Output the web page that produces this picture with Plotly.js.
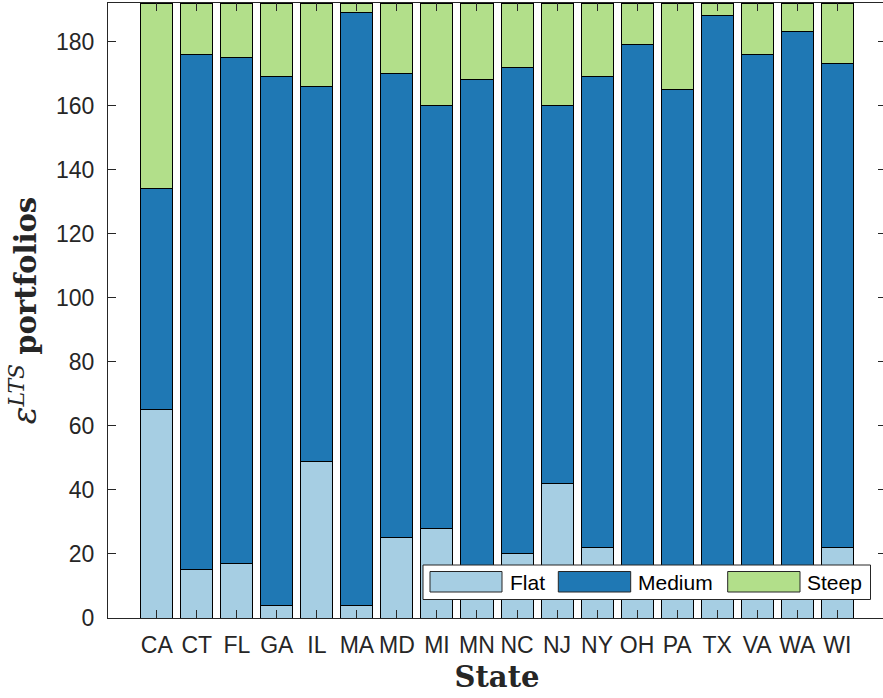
<!DOCTYPE html>
<html>
<head>
<meta charset="utf-8">
<script src="https://cdn.plot.ly/plotly-3.0.1.min.js"></script>
<style>html,body{margin:0;padding:0;overflow:hidden;background:#fff;}#chart{width:886px;height:698px;}</style>
</head>
<body>
<div id="chart"></div>
<script>
const states = ["CA","CT","FL","GA","IL","MA","MD","MI","MN","NC","NJ","NY","OH","PA","TX","VA","WA","WI"];
const flat   = [65, 15, 17, 4, 49, 4, 25, 28, 10, 20, 42, 22, 8, 12, 6, 9, 7, 22];
const mediumTop = [134, 176, 175, 169, 166, 189, 170, 160, 168, 172, 160, 169, 179, 165, 188, 176, 183, 173];
const total = 192;
const medium = mediumTop.map((v, i) => v - flat[i]);
const steep = mediumTop.map(v => total - v);
const seriesNames = ["Flat", "Medium", "Steep"];
const colors = ["#a6cee3", "#1f78b4", "#b2df8a"];

const W = 886, H = 698, L = 108, R = 0, T = 3, B = 80;
const pw = W - L - R, ph = H - T - B;
const px = x => (x - L) / pw;
const py = y => (H - B - y) / ph;

const vals = [flat, medium, steep];
const traces = vals.map((v, k) => ({
  type: "bar", x: states, y: v, name: seriesNames[k],
  marker: {color: colors[k], line: {color: "#000", width: 1}},
  width: 0.8, showlegend: false, hoverinfo: "x+y"
}));

const font = "Liberation Sans, Arial, Helvetica, sans-serif";
const shapes = [];
const annotations = [];
// legend box
shapes.push({type: "rect", xref: "paper", yref: "paper", x0: px(423), x1: px(870.5), y0: py(599.5), y1: py(565),
  fillcolor: "#fff", line: {color: "#262626", width: 1}, layer: "above"});
const sw = [[430, 502, 508], [558.3, 630.7, 636], [727.7, 800, 805]];
sw.forEach((s, k) => {
  shapes.push({type: "rect", xref: "paper", yref: "paper", x0: px(s[0]), x1: px(s[1]), y0: py(592), y1: py(571.5),
    fillcolor: colors[k], line: {color: "#262626", width: 1}, layer: "above"});
  annotations.push({xref: "paper", yref: "paper", x: px(s[2]), y: py(582), xanchor: "left", yanchor: "middle",
    text: seriesNames[k], showarrow: false, font: {family: font, size: 21, color: "#000"}});
});

const layout = {
  width: W, height: H,
  margin: {l: L, r: R, t: T, b: B, pad: 0},
  paper_bgcolor: "#fff", plot_bgcolor: "#fff",
  barmode: "stack", bargap: 0.2,
  showlegend: false,
  xaxis: {
    range: [-1.2175, 18.2175], type: "category",
    ticks: "inside", ticklen: 8, tickcolor: "#262626", tickwidth: 1,
    showline: true, linecolor: "#262626", linewidth: 1, mirror: "allticks",
    showgrid: false, zeroline: false,
    tickfont: {family: font, size: 23, color: "#262626"},
    ticklabelstandoff: 6,
    title: {text: "<b>State</b>", font: {family: "DejaVu Serif, serif", size: 29, color: "#262626"}, standoff: 10}
  },
  yaxis: {
    range: [0, total], tickvals: [0,20,40,60,80,100,120,140,160,180],
    ticks: "inside", ticklen: 8, tickcolor: "#262626", tickwidth: 1,
    showline: true, linecolor: "#262626", linewidth: 1, mirror: "allticks",
    showgrid: false, zeroline: false,
    tickfont: {family: font, size: 23, color: "#262626"},
    ticklabelstandoff: 8,
    title: {text: "<i><span style=\"font-size:33px\">ε</span></i><sup><i><span style=\"font-size:22px\">LTS</span></i></sup> <b>portfolios</b>",
      font: {family: "DejaVu Serif, serif", size: 29, color: "#262626"}, standoff: 10}
  },
  shapes: shapes,
  annotations: annotations
};

Plotly.newPlot("chart", traces, layout, {displayModeBar: false, staticPlot: true});
</script>
</body>
</html>
